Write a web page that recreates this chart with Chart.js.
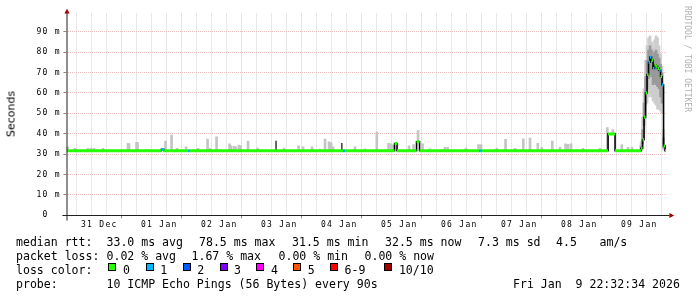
<!DOCTYPE html>
<html><head><meta charset="utf-8">
<script src="https://cdn.jsdelivr.net/npm/chart.js@4/dist/chart.umd.min.js"></script>
<style>
html,body{margin:0;padding:0;background:#fff;}
#wrap{position:relative;width:697px;height:297px;overflow:hidden;background:#fff;}
#c{position:absolute;left:0;top:0;}
.t{position:absolute;font-family:'DejaVu Sans Mono',monospace;font-size:11.55px;line-height:14px;white-space:pre;color:#000;}
.sq{position:absolute;width:8px;height:8px;box-sizing:border-box;border:1px solid #000;}
#ytitle{position:absolute;left:11px;top:113.5px;transform:translate(-50%,-50%) rotate(-90deg);font-family:'DejaVu Sans',sans-serif;font-size:11px;white-space:nowrap;line-height:1;color:#000;}
#wm{position:absolute;left:687px;top:59px;transform:translate(-50%,-50%) rotate(90deg);font-family:'DejaVu Sans Mono',monospace;font-size:8px;color:#b0b0b0;white-space:pre;line-height:1;}
</style></head><body>
<div id="wrap">
<canvas id="c" width="697" height="297"></canvas>
<div id="ytitle">Seconds</div>
<div id="wm">RRDTOOL / TOBI OETIKER</div>

<div class="t" style="left:16px;top:235px">median rtt:</div>
<div class="t" style="left:106.5px;top:235px">33.0 ms avg</div>
<div class="t" style="left:199px;top:235px">78.5 ms max</div>
<div class="t" style="left:292px;top:235px">31.5 ms min</div>
<div class="t" style="left:385px;top:235px">32.5 ms now</div>
<div class="t" style="left:478px;top:235px">7.3 ms sd</div>
<div class="t" style="left:556px;top:235px">4.5</div>
<div class="t" style="left:599.5px;top:235px">am/s</div>

<div class="t" style="left:16px;top:249px">packet loss:</div>
<div class="t" style="left:106.5px;top:249px">0.02 % avg</div>
<div class="t" style="left:191.5px;top:249px">1.67 % max</div>
<div class="t" style="left:278.5px;top:249px">0.00 % min</div>
<div class="t" style="left:364.5px;top:249px">0.00 % now</div>

<div class="t" style="left:16px;top:262.8px">loss color:</div>
<div id="losslegend"></div>

<div class="t" style="left:16px;top:276.6px">probe:</div>
<div class="t" style="left:106.5px;top:276.6px">10 ICMP Echo Pings (56 Bytes) every 90s</div>
<div class="t" style="left:513px;top:276.6px">Fri Jan  9 22:32:34 2026</div>
</div>
<script>
// ---------- data ----------
const xDayLabels = ['31 Dec','01 Jan','02 Jan','03 Jan','04 Jan','05 Jan','06 Jan','07 Jan','08 Jan','09 Jan'];
const yTickLabels = ['0','10 m','20 m','30 m','40 m','50 m','60 m','70 m','80 m','90 m'];
const lossLabels = ['0','1','2','3','4','5','6-9','10/10'];
const lossColors = ['#26ff00','#00b8ff','#0059ff','#7e00ff','#ff00ff','#ff5500','#ff0000','#a10000'];

// median rtt (ms), as change points; time = hours since 31 Dec 00:00
const medianHours = [-0.9, 36.7, 37.9, 47.5, 48.1, 109.5, 110.3, 130.1, 131.1, 138.9, 140.1, 164.1, 164.9,
  215.5, 218.3, 228.7, 229.3, 229.9, 230.5, 231.1, 231.7, 232.3, 232.9, 233.5, 234.1, 234.7, 235.3, 235.9,
  236.5, 237.1, 237.7, 238.3];
const medianMs = [31.6, 32.2, 31.6, 31.6, 31.6, 31.6, 31.6, 35.2, 31.6, 36.0, 31.6, 31.6, 31.6,
  39.9, 31.6, 32.8, 37.0, 48.0, 60.0, 69.0, 75.0, 77.5, 76.0, 72.0, 73.5, 73.0, 72.0, 71.0,
  68.0, 64.0, 34.0, 31.6];
const medianLoss = [0, 1, 0, 1, 0, 1, 0, 0, 0, 0, 0, 1, 0,
  0, 0, 0, 0, 0, 0, 0, 1, 1, 0, 1, 0, 0, 0, 1,
  0, 1, 0, 0];
const lastSampleHour = 238.7;

// smoke spikes above the median (top in ms)
const spikeHours = [-0.7, 2.3, 7.5, 8.7, 9.9, 13.5, 23.5, 23.9, 26.9, 27.3, 31.1, 38.5, 40.9, 43.1, 46.7, 51.5,
  55.3, 56.3, 58.9, 60.3, 64.1, 64.7, 65.9, 66.7, 67.9, 68.5, 71.5, 75.3, 85.9, 91.7, 93.5, 97.1, 100.3,
  102.3, 103.9, 104.7, 105.5, 114.3, 118.3, 123.0, 127.7, 128.5, 129.5, 135.9, 137.7, 139.5, 141.3, 144.3,
  150.3, 151.3, 158.7, 163.7, 164.7, 171.0, 174.5, 178.3, 181.6, 184.3, 187.4, 189.0, 193.2, 196.3, 198.5,
  199.5, 200.7, 205.5, 212.3, 215.2, 217.4, 221.0, 223.5, 225.1];
const spikeTopMs = [33.6, 32.8, 32.8, 32.8, 32.8, 32.8, 35.3, 35.0, 35.8, 35.5, 32.3, 36.4, 39.3, 32.8, 33.5, 32.8,
  37.4, 32.8, 38.5, 32.3, 35.0, 34.0, 33.8, 33.5, 34.4, 34.0, 36.4, 33.0, 33.0, 34.1, 33.6, 33.5, 32.5,
  37.4, 36.0, 35.5, 33.5, 33.6, 32.6, 40.8, 35.3, 35.0, 34.5, 34.0, 34.6, 41.5, 35.0, 32.6,
  33.3, 33.3, 32.9, 34.6, 34.6, 32.8, 37.2, 32.8, 37.5, 37.9, 35.3, 33.3, 36.4, 33.3, 35.0,
  34.8, 35.0, 32.8, 32.8, 43.0, 42.0, 34.6, 33.3, 33.3];
const darkSpikeHours = [82.7, 109.0];
const darkSpikeTopMs = [36.4, 35.3];

// smoke around the final peak
const peakHours = [228.7, 229.3, 229.9, 230.5, 231.1, 231.7, 232.3, 232.9, 233.5, 234.1, 234.7, 235.3, 235.9, 236.5, 237.1, 237.7];
const peakOuterLow  = [32, 33, 40, 48, 55, 58, 60, 58, 56, 55, 54, 52, 52, 51, 50, 32];
const peakOuterHigh = [36, 48, 62, 76, 83, 87, 88, 85, 82, 86, 88, 87, 83, 79, 73, 42];
const peakInnerLow  = [32, 35, 44, 54, 62, 67, 70, 68, 64, 65, 64, 63, 62, 58, 55, 33];
const peakInnerHigh = [34, 42, 55, 68, 76, 81, 83, 81, 78, 80, 81, 79, 77, 74, 70, 38];

// ---------- legend squares ----------
const sqLeft = [108.3, 145.6, 182.6, 219.5, 256.4, 293.2, 330, 384.3];
const ll = document.getElementById('losslegend');
lossLabels.forEach((lab, i) => {
  const s = document.createElement('div');
  s.className = 'sq';
  s.style.left = sqLeft[i] + 'px'; s.style.top = '263px';
  s.style.background = lossColors[i];
  ll.appendChild(s);
  const t = document.createElement('div');
  t.className = 't';
  t.style.left = (sqLeft[i] + 14.6) + 'px'; t.style.top = '262.8px';
  t.textContent = lab;
  ll.appendChild(t);
});

// ---------- helpers ----------
function medianAt(h) {
  let v = medianMs[0];
  for (let i = 0; i < medianHours.length; i++) { if (medianHours[i] <= h) v = medianMs[i]; }
  return v;
}
const colored = [];
medianHours.forEach((h, i) => {
  const end = i + 1 < medianHours.length ? medianHours[i + 1] : lastSampleHour;
  colored.push({x: h, y: medianMs[i], l: medianLoss[i]});
  colored.push({x: end, y: medianMs[i], l: medianLoss[i]});
  colored.push({x: end, y: null, l: 0});
});
const blackLine = medianHours.map((h, i) => ({x: h, y: medianMs[i]}));
blackLine.push({x: lastSampleHour, y: medianMs[medianMs.length - 1]});

const LS = '1.3px';
const lsPlugin = {
  id: 'ls',
  beforeUpdate(c) { c.ctx.letterSpacing = LS; },
  beforeLayout(c) { c.ctx.letterSpacing = LS; },
  beforeDraw(c) { c.ctx.letterSpacing = LS; }
};
const axesPlugin = {
  id: 'axes',
  afterDatasetsDraw(chart) {
    const {ctx, chartArea: a} = chart;
    ctx.save();
    ctx.lineWidth = 1;
    ctx.strokeStyle = '#202020';
    const ax = a.left + 0.6, by = Math.round(a.bottom) + 0.5;
    ctx.beginPath();
    ctx.moveTo(ax, by + 5); ctx.lineTo(ax, 12.5);
    ctx.stroke();
    ctx.beginPath();
    ctx.moveTo(a.left - 4, by); ctx.lineTo(a.right + 3, by);
    ctx.stroke();
    ctx.fillStyle = '#a00000';
    ctx.beginPath();
    ctx.moveTo(ax, 8.8); ctx.lineTo(ax - 2.6, 13.5); ctx.lineTo(ax + 2.6, 13.5); ctx.closePath(); ctx.fill();
    ctx.beginPath();
    ctx.moveTo(a.right + 7.8, by); ctx.lineTo(a.right + 3, by - 2.4); ctx.lineTo(a.right + 3, by + 2.4); ctx.closePath(); ctx.fill();
    ctx.restore();
  }
};

const MINOR = '#d2d2d2', MAJOR = '#ecbdbd';
const tickFont = {family: "'DejaVu Sans Mono', monospace", size: 8};

new Chart(document.getElementById('c'), {
  type: 'line',
  data: {
    datasets: [
      {type: 'bar', data: spikeHours.map((h, i) => ({x: h, y: [medianAt(h), spikeTopMs[i]]})),
        backgroundColor: '#c4c4c4', barThickness: 2, grouped: false, borderWidth: 0, order: 10},
      {type: 'bar', data: peakHours.map((h, i) => ({x: h, y: [peakOuterLow[i], peakOuterHigh[i]]})),
        backgroundColor: '#cdcdcd', barThickness: 2, grouped: false, borderWidth: 0, order: 9},
      {type: 'bar', data: peakHours.map((h, i) => ({x: h, y: [peakInnerLow[i], peakInnerHigh[i]]})),
        backgroundColor: '#9a9a9a', barThickness: 2, grouped: false, borderWidth: 0, order: 8},
      {type: 'bar', data: darkSpikeHours.map((h, i) => ({x: h, y: [medianAt(h), darkSpikeTopMs[i]]})),
        backgroundColor: '#4a4a4a', barThickness: 1, grouped: false, borderWidth: 0, order: 7},
      {type: 'line', data: blackLine, stepped: true, borderColor: '#000', borderWidth: 1.6,
        pointRadius: 0, fill: false, order: 5},
      {type: 'line', data: colored, borderColor: lossColors[0], borderWidth: 3, borderCapStyle: 'butt',
        pointRadius: 0, fill: false, spanGaps: false, order: 1,
        segment: {borderColor: ctx => lossColors[colored[ctx.p0DataIndex].l]}}
    ]
  },
  options: {
    responsive: false, animation: false, devicePixelRatio: 1,
    layout: {padding: {left: 0, top: 13.3, right: 30.6, bottom: 0}},
    plugins: {legend: {display: false}, tooltip: {enabled: false}},
    events: [],
    scales: {
      x: {
        type: 'linear', min: -1.16, max: 238.84, offset: false,
        afterFit: s => { s.height = 297 - 215.3; },
        afterBuildTicks: s => { const t = []; for (let h = 0; h <= 234; h += 6) t.push({value: h}); s.ticks = t; },
        ticks: {
          autoSkip: false, maxRotation: 0, minRotation: 0, padding: 1.5, color: '#000', font: tickFont,
          callback: v => (v % 24 === 12 ? xDayLabels[(v - 12) / 24] : '')
        },
        grid: {
          color: c => (c.tick && c.tick.value % 24 === 0 ? MAJOR : MINOR),
          tickColor: c => (c.tick && c.tick.value % 24 === 0 ? '#888' : 'rgba(0,0,0,0)'),
          tickLength: 3, tickBorderDash: [], lineWidth: 1
        },
        border: {display: false, dash: [1, 1]}
      },
      y: {
        min: 0, max: 99,
        afterFit: s => { s.width = 66.4; },
        afterBuildTicks: s => { const t = []; for (let v = 0; v <= 95; v += 5) t.push({value: v}); s.ticks = t; },
        ticks: {
          padding: 2.5, color: '#000', font: tickFont,
          callback: v => {
            if (v % 10 !== 0) return '';
            const lab = yTickLabels[v / 10];
            return lab.length < 4 ? lab + '  ' : lab;
          }
        },
        grid: {
          color: c => (c.tick && c.tick.value === 0 ? 'rgba(0,0,0,0)' : (c.tick && c.tick.value % 10 === 0 ? MAJOR : MINOR)),
          tickColor: c => (c.tick && c.tick.value % 10 === 0 ? '#888' : 'rgba(0,0,0,0)'),
          tickLength: 3, tickBorderDash: [], lineWidth: 1
        },
        border: {display: false, dash: [1, 1]}
      }
    }
  },
  plugins: [lsPlugin, axesPlugin]
});
</script>
</body></html>
